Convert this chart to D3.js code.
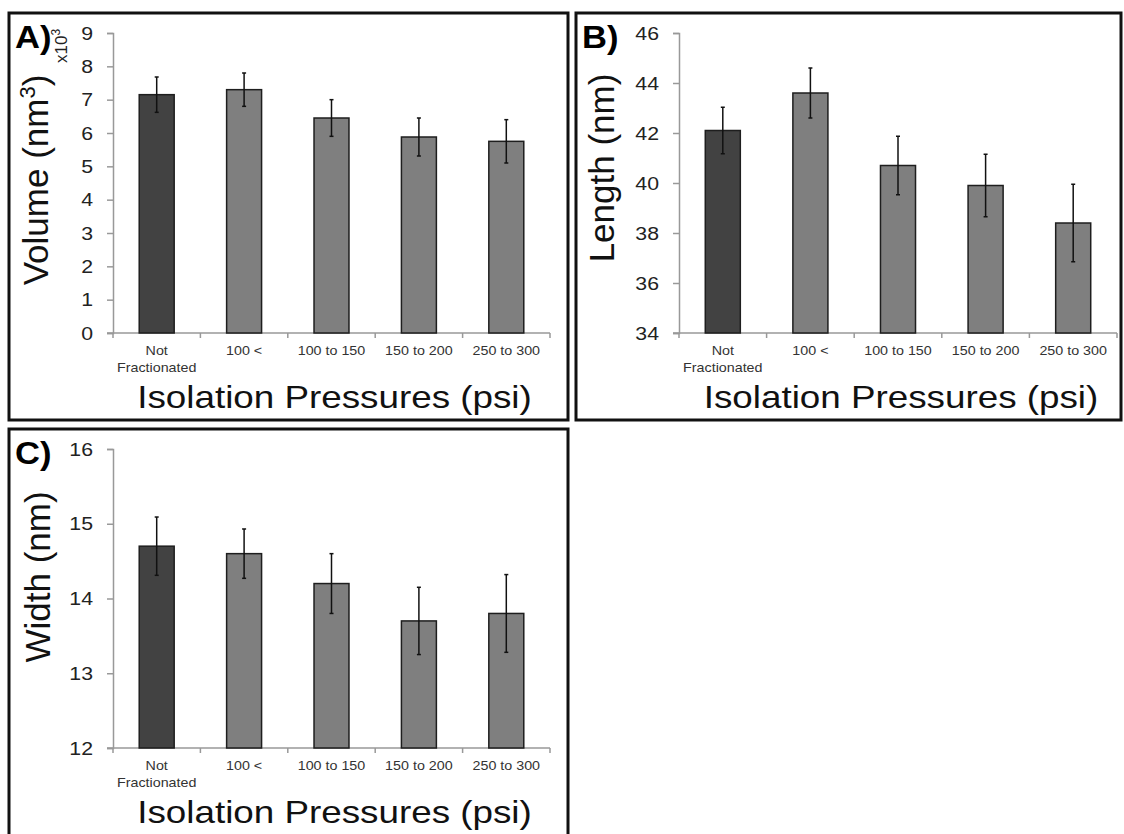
<!DOCTYPE html>
<html>
<head>
<meta charset="utf-8">
<script src="https://cdn.jsdelivr.net/npm/d3@7"></script>
<style>
  body { margin: 0; background: #fff; }
  svg { font-family: "Liberation Sans", Arial, sans-serif; }
</style>
</head>
<body>
<svg id="chart" width="1124" height="834"></svg>
<script>
// data
var categories = ["Not Fractionated", "100 <", "100 to 150", "150 to 200", "250 to 300"];

var volumeMean = [7.15, 7.3, 6.45, 5.88, 5.75];
var volumeErr  = [0.53, 0.5, 0.55, 0.57, 0.65];
var volumeTicks = [0, 1, 2, 3, 4, 5, 6, 7, 8, 9];

var lengthMean = [42.1, 43.6, 40.7, 39.9, 38.4];
var lengthErr  = [0.93, 1.0, 1.17, 1.25, 1.55];
var lengthTicks = [34, 36, 38, 40, 42, 44, 46];

var widthMean = [14.7, 14.6, 14.2, 13.7, 13.8];
var widthErr  = [0.39, 0.33, 0.4, 0.45, 0.52];
var widthTicks = [12, 13, 14, 15, 16];

var svg = d3.select("#chart");

// the source figure is a bit wider than tall, so horizontal text gets a small stretch
function stretch(sel, sx){
    sel.each(function(){
        var t = d3.select(this);
        var tx = +t.attr("x") || 0, ty = +t.attr("y") || 0;
        t.attr("x", 0).attr("y", 0)
         .attr("transform", "translate(" + tx + "," + ty + ") scale(" + sx + ",1)");
    });
}

function drawPanel(opt){
    var g = svg.append("g");

    // panel frame
    g.append("rect")
        .attr("x", opt.box[0]).attr("y", opt.box[1])
        .attr("width", opt.box[2]).attr("height", opt.box[3])
        .attr("fill", "none")
        .attr("stroke", "#111")
        .attr("stroke-width", 3);

    var x = d3.scaleBand()
        .domain(categories)
        .range([opt.left, opt.right])
        .paddingInner(0.6)
        .paddingOuter(0.3);

    var y = d3.scaleLinear()
        .domain(opt.domain)
        .range([opt.bottom, opt.top]);

    // y axis
    var ya = g.append("g")
        .attr("transform", "translate(" + opt.left + ",0)")
        .call(d3.axisLeft(y).tickValues(opt.ticks).tickFormat(d3.format("d"))
              .tickSize(6).tickPadding(14).tickSizeOuter(6));
    ya.selectAll("path, line").attr("stroke", "#999").attr("stroke-width", 1.5);
    ya.selectAll("text").attr("font-size", 19).attr("fill", "#222").attr("font-family", null);
    stretch(ya.selectAll("text"), 1.12);

    // x axis line + boundary ticks
    g.append("line")
        .attr("x1", opt.left - 6).attr("x2", opt.right)
        .attr("y1", opt.bottom).attr("y2", opt.bottom)
        .attr("stroke", "#999").attr("stroke-width", 1.5);
    var bounds = d3.range(categories.length + 1).map(function(i){ return opt.left + i * x.step(); });
    g.selectAll(".xt").data(bounds).enter()
        .append("line")
        .attr("x1", function(d){ return d; }).attr("x2", function(d){ return d; })
        .attr("y1", opt.bottom).attr("y2", opt.bottom + 5)
        .attr("stroke", "#999").attr("stroke-width", 1.5);

    // category labels
    categories.forEach(function(c){
        var cx = x(c) + x.bandwidth() / 2;
        var lines = c === "Not Fractionated" ? ["Not", "Fractionated"] : [c];
        lines.forEach(function(t, i){
            var lab = g.append("text")
                .attr("x", cx)
                .attr("y", opt.bottom + 22 + i * 17)
                .attr("text-anchor", "middle")
                .attr("font-size", 13)
                .attr("fill", "#333")
                .text(t);
            stretch(lab, 1.1);
        });
    });

    // bars
    g.selectAll(".bar").data(opt.mean).enter()
        .append("rect")
        .attr("x", function(d, i){ return x(categories[i]); })
        .attr("y", function(d){ return y(d); })
        .attr("width", x.bandwidth())
        .attr("height", function(d){ return opt.bottom - y(d); })
        .attr("fill", function(d, i){ return i === 0 ? "#424242" : "#7f7f7f"; })
        .attr("stroke", "#1e1e1e")
        .attr("stroke-width", 1.5);

    // error bars
    opt.mean.forEach(function(m, i){
        var cx = x(categories[i]) + x.bandwidth() / 2;
        var e = opt.err[i];
        g.append("line")
            .attr("x1", cx).attr("x2", cx)
            .attr("y1", y(m + e)).attr("y2", y(m - e))
            .attr("stroke", "#111").attr("stroke-width", 1.5);
        [m + e, m - e].forEach(function(v){
            g.append("line")
                .attr("x1", cx - 2).attr("x2", cx + 2)
                .attr("y1", y(v)).attr("y2", y(v))
                .attr("stroke", "#111").attr("stroke-width", 1.5);
        });
    });

    // titles
    var xt = g.append("text")
        .attr("x", (opt.left + opt.right) / 2 + 3)
        .attr("y", opt.bottom + 75)
        .attr("text-anchor", "middle")
        .attr("font-size", 32)
        .attr("fill", "#111")
        .text("Isolation Pressures (psi)");
    stretch(xt, 1.15);

    var yt = g.append("text")
        .attr("transform", "translate(" + opt.ytx + "," + opt.yty + ") rotate(-90)")
        .attr("text-anchor", "middle")
        .attr("font-size", 35)
        .attr("fill", "#111");
    if (opt.sup) {
        yt.append("tspan").text(opt.ylabel[0]);
        yt.append("tspan").attr("font-size", 22).attr("dy", -13).text(opt.sup);
        yt.append("tspan").attr("dy", 13).text(opt.ylabel[1]);
    } else {
        yt.text(opt.ylabel);
    }

    var pl = g.append("text")
        .attr("x", opt.box[0] + 6)
        .attr("y", opt.box[1] + 35)
        .attr("font-size", 32)
        .attr("font-weight", "bold")
        .attr("fill", "#000")
        .text(opt.label);
    stretch(pl, 1.08);

    return g;
}

var pA = drawPanel({
    box: [9, 13, 559, 407],
    left: 113, right: 550, top: 33, bottom: 333,
    domain: [0, 9], ticks: volumeTicks,
    mean: volumeMean, err: volumeErr,
    ylabel: ["Volume (nm", ")"], sup: "3",
    ytx: 48, yty: 180,
    label: "A)"
});
// multiplier label next to the y title
pA.append("text")
    .attr("transform", "translate(67,63) rotate(-90)")
    .attr("font-size", 17)
    .attr("fill", "#222")
    .text("x10")
    .append("tspan").attr("font-size", 12).attr("dy", -7).text("3");

drawPanel({
    box: [576, 13, 545, 407],
    left: 679, right: 1117, top: 33, bottom: 333,
    domain: [34, 46], ticks: lengthTicks,
    mean: lengthMean, err: lengthErr,
    ylabel: "Length (nm)",
    ytx: 614, yty: 168,
    label: "B)"
});

drawPanel({
    box: [9, 429, 559, 410],
    left: 113, right: 550, top: 449, bottom: 748,
    domain: [12, 16], ticks: widthTicks,
    mean: widthMean, err: widthErr,
    ylabel: "Width (nm)",
    ytx: 50, yty: 577,
    label: "C)"
});
</script>
</body>
</html>
